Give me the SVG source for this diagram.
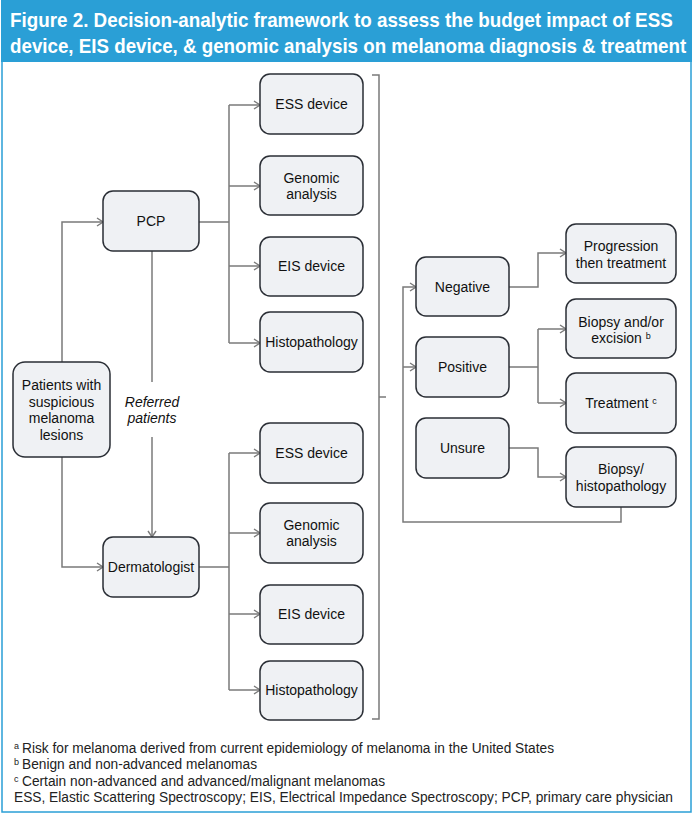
<svg xmlns="http://www.w3.org/2000/svg" width="696" height="820" viewBox="0 0 696 820">
<defs>
<style>
.box{fill:#eff1f4;stroke:#2a2e35;stroke-width:1.5}
.t{font-family:"Liberation Sans",Arial,sans-serif;font-size:14px;fill:#111;text-anchor:middle}
.it{font-style:italic}
.c{fill:none;stroke:#7a7a7a;stroke-width:1.5}
.sup{font-size:9px}
.title{font-family:"Liberation Sans",Arial,sans-serif;font-size:20px;font-weight:bold;fill:#fff}
.fn{font-family:"Liberation Sans",Arial,sans-serif;font-size:14px;fill:#222}
.fs{font-family:"Liberation Sans",Arial,sans-serif;font-size:9px;fill:#222}
</style>
<marker id="ah" markerWidth="8" markerHeight="10" refX="7" refY="5" orient="auto" markerUnits="userSpaceOnUse">
<path d="M1,1 L7,5 L1,9" fill="none" stroke="#7a7a7a" stroke-width="1.4"/>
</marker>
</defs>
<rect x="0" y="0" width="696" height="820" fill="#fff"/>
<rect x="2" y="2" width="689" height="810" fill="#fff" stroke="#2a9fd6" stroke-width="1.5"/>
<rect x="1" y="0" width="691" height="62" fill="#2a9fd6"/>
<text class="title" transform="translate(10,27) scale(0.84,1)" x="0" y="0" textLength="789" lengthAdjust="spacingAndGlyphs">Figure 2. Decision-analytic framework to assess the budget impact of ESS</text>
<text class="title" transform="translate(10,53) scale(0.84,1)" x="0" y="0" textLength="805" lengthAdjust="spacingAndGlyphs">device, EIS device, &amp; genomic analysis on melanoma diagnosis &amp; treatment</text>

<g id="connectors">
<path class="c" d="M62,362 V222 H103" marker-end="url(#ah)"/>
<path class="c" d="M62,457 V567 H103" marker-end="url(#ah)"/>
<path class="c" d="M152,251 V382"/>
<path class="c" d="M152,437 V537" marker-end="url(#ah)"/>
<path class="c" d="M199,222 H229 M229,105 V343"/>
<path class="c" d="M229,105 H260" marker-end="url(#ah)"/>
<path class="c" d="M229,186 H260" marker-end="url(#ah)"/>
<path class="c" d="M229,266 H260" marker-end="url(#ah)"/>
<path class="c" d="M229,343 H260" marker-end="url(#ah)"/>
<path class="c" d="M199,567 H229 M229,453 V690"/>
<path class="c" d="M229,453 H260" marker-end="url(#ah)"/>
<path class="c" d="M229,533 H260" marker-end="url(#ah)"/>
<path class="c" d="M229,614 H260" marker-end="url(#ah)"/>
<path class="c" d="M229,690 H260" marker-end="url(#ah)"/>
<path class="c" d="M372,75 H379 V719 H372 M379,397 H386"/>
<path class="c" d="M621,507 V522 H403 V287 H416" marker-end="url(#ah)"/>
<path class="c" d="M403,367 H416" marker-end="url(#ah)"/>
<path class="c" d="M509,287 H538 V253 H566" marker-end="url(#ah)"/>
<path class="c" d="M509,367 H538 M538,329 V403"/>
<path class="c" d="M538,329 H566" marker-end="url(#ah)"/>
<path class="c" d="M538,403 H566" marker-end="url(#ah)"/>
<path class="c" d="M509,448 H538 V477 H566" marker-end="url(#ah)"/>
</g>

<g id="patients"><rect class="box" x="13" y="362" width="97" height="95" rx="12"/>
<text class="t" x="61.5" y="390">Patients with</text><text class="t" x="61.5" y="406.5">suspicious</text><text class="t" x="61.5" y="423">melanoma</text><text class="t" x="61.5" y="439.5">lesions</text></g>
<g id="referred"><text class="t it" x="152" y="407">Referred</text><text class="t it" x="152" y="423">patients</text></g>
<g id="pcp"><rect class="box" x="103" y="191" width="96" height="60" rx="10"/><text class="t" x="151" y="226">PCP</text></g>
<g id="derm"><rect class="box" x="103" y="537" width="96" height="60" rx="10"/><text class="t" x="151" y="572">Dermatologist</text></g>

<g id="ess1"><rect class="box" x="260" y="74" width="103" height="60" rx="10"/><text class="t" x="311.5" y="109">ESS device</text></g>
<g id="gen1"><rect class="box" x="260" y="156" width="103" height="59" rx="10"/><text class="t" x="311.5" y="183">Genomic</text><text class="t" x="311.5" y="199">analysis</text></g>
<g id="eis1"><rect class="box" x="260" y="237" width="103" height="59" rx="10"/><text class="t" x="311.5" y="271">EIS device</text></g>
<g id="hist1"><rect class="box" x="260" y="312" width="103" height="60" rx="10"/><text class="t" x="311.5" y="347">Histopathology</text></g>

<g id="ess2"><rect class="box" x="260" y="423" width="103" height="60" rx="10"/><text class="t" x="311.5" y="458">ESS device</text></g>
<g id="gen2"><rect class="box" x="260" y="503" width="103" height="60" rx="10"/><text class="t" x="311.5" y="530">Genomic</text><text class="t" x="311.5" y="546">analysis</text></g>
<g id="eis2"><rect class="box" x="260" y="585" width="103" height="59" rx="10"/><text class="t" x="311.5" y="619">EIS device</text></g>
<g id="hist2"><rect class="box" x="260" y="661" width="103" height="59" rx="10"/><text class="t" x="311.5" y="695">Histopathology</text></g>

<g id="negative"><rect class="box" x="416" y="257" width="93" height="59" rx="10"/><text class="t" x="462.5" y="292">Negative</text></g>
<g id="positive"><rect class="box" x="416" y="337" width="93" height="60" rx="10"/><text class="t" x="462.5" y="372">Positive</text></g>
<g id="unsure"><rect class="box" x="416" y="418" width="93" height="60" rx="10"/><text class="t" x="462.5" y="453">Unsure</text></g>

<g id="progression"><rect class="box" x="566" y="224" width="110" height="59" rx="10"/><text class="t" x="621" y="251">Progression</text><text class="t" x="621" y="267.5">then treatment</text></g>
<g id="biopsy"><rect class="box" x="566" y="299" width="110" height="59" rx="10"/><text class="t" x="621" y="327">Biopsy and/or</text><text class="t" x="621" y="343">excision <tspan class="sup" dy="-4">b</tspan></text></g>
<g id="treatment"><rect class="box" x="566" y="373" width="110" height="60" rx="10"/><text class="t" x="621" y="408">Treatment <tspan class="sup" dy="-4">c</tspan></text></g>
<g id="biopsyhist"><rect class="box" x="566" y="447" width="110" height="60" rx="10"/><text class="t" x="621" y="474">Biopsy/</text><text class="t" x="621" y="491">histopathology</text></g>

<g id="footnotes">
<text class="fs" x="14" y="749">a</text><text class="fn" x="22" y="753" textLength="532" lengthAdjust="spacingAndGlyphs">Risk for melanoma derived from current epidemiology of melanoma in the United States</text>
<text class="fs" x="14" y="765">b</text><text class="fn" x="22" y="769" textLength="235" lengthAdjust="spacingAndGlyphs">Benign and non-advanced melanomas</text>
<text class="fs" x="14" y="782">c</text><text class="fn" x="22" y="786" textLength="363" lengthAdjust="spacingAndGlyphs">Certain non-advanced and advanced/malignant melanomas</text>
<text class="fn" x="14" y="802" textLength="659" lengthAdjust="spacingAndGlyphs">ESS, Elastic Scattering Spectroscopy; EIS, Electrical Impedance Spectroscopy; PCP, primary care physician</text>
</g>
</svg>
